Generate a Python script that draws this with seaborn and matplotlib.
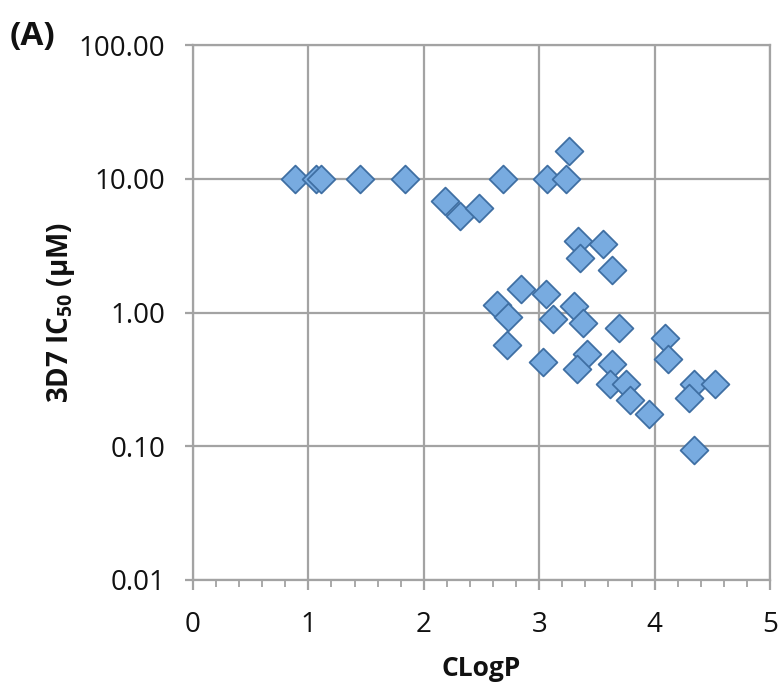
import numpy as np
import matplotlib
matplotlib.use('Agg')
import matplotlib.pyplot as plt
from matplotlib.ticker import FixedLocator, FormatStrFormatter, MultipleLocator, NullLocator
import pandas as pd
import seaborn as sns

# values
clogp = [0.88, 1.07, 1.11, 1.45, 1.84, 2.69, 3.07, 3.23, 3.26,
         2.18, 2.31, 2.48,
         3.34, 3.55, 3.35, 3.63,
         2.63, 2.73, 2.84, 3.06, 3.30, 3.12, 3.38, 3.69, 4.09, 4.12,
         2.72, 3.03, 3.41, 3.33, 3.63, 3.61, 3.75, 3.79, 3.95,
         4.34, 4.52, 4.30, 4.34]
ic50 = [10, 10, 10, 10, 10, 10, 10, 10, 16.2,
        6.84, 5.27, 6.02,
        3.42, 3.23, 2.56, 2.09,
        1.13, 0.93, 1.49, 1.37, 1.12, 0.89, 0.83, 0.77, 0.64, 0.45,
        0.57, 0.43, 0.49, 0.38, 0.41, 0.29, 0.29, 0.22, 0.175,
        0.29, 0.29, 0.23, 0.093]
y_ticks = [0.01, 0.1, 1, 10, 100]
x_ticks = [0, 1, 2, 3, 4, 5]

df = pd.DataFrame({'CLogP': clogp, 'IC50': ic50})

sns.set_style('white')
plt.rcParams['font.family'] = ['Open Sans', 'DejaVu Sans']
plt.rcParams['mathtext.fontset'] = 'custom'
plt.rcParams['mathtext.rm'] = 'Open Sans'
plt.rcParams['mathtext.bf'] = 'Open Sans:bold'

grey = '#a3a3a3'
txt = '#111111'

fig = plt.figure(figsize=(7.83, 6.85), dpi=100)
ax = fig.add_axes([193 / 783, 1 - 580 / 685, (770 - 193) / 783, (580 - 45) / 685])

sns.scatterplot(data=df, x='CLogP', y='IC50', marker='D', s=200,
                color='#78abe0', edgecolor='#3f6fa3', linewidth=1.3,
                ax=ax, zorder=3, clip_on=False)

ax.set_yscale('log')
ax.set_ylim(0.01, 100)
ax.set_xlim(0, 5)
ax.yaxis.set_major_locator(FixedLocator(y_ticks))
ax.yaxis.set_minor_locator(NullLocator())
ax.yaxis.set_major_formatter(FormatStrFormatter('%.2f'))
ax.xaxis.set_major_locator(FixedLocator(x_ticks))
ax.xaxis.set_minor_locator(MultipleLocator(0.2))

ax.grid(True, which='major', color=grey, linewidth=1.6)
for sp in ax.spines.values():
    sp.set_color(grey)
    sp.set_linewidth(1.6)

ax.tick_params(bottom=True, left=True, which='both')
ax.tick_params(axis='y', which='major', direction='out', length=6, width=1.6,
               color=grey, pad=14, labelsize=20, labelcolor=txt)
ax.tick_params(axis='x', which='major', direction='out', length=7, width=1.6,
               color=grey, pad=15, labelsize=20, labelcolor=txt)
ax.tick_params(axis='x', which='minor', direction='out', length=5, width=1.3,
               color=grey)

ax.set_xlabel('CLogP', fontsize=19, fontweight='bold', color=txt, labelpad=12)
ax.set_ylabel(r'3D7 IC$_{\mathbf{50}}$ ($\mathbf{\mu}$M)', fontsize=20,
              fontweight='bold', color=txt, labelpad=1)

fig.text(10 / 783, 1 - 36 / 685, '(A)', fontsize=24, fontweight='bold',
         color=txt, va='center', ha='left')

fig.savefig('out.png', dpi=100)
